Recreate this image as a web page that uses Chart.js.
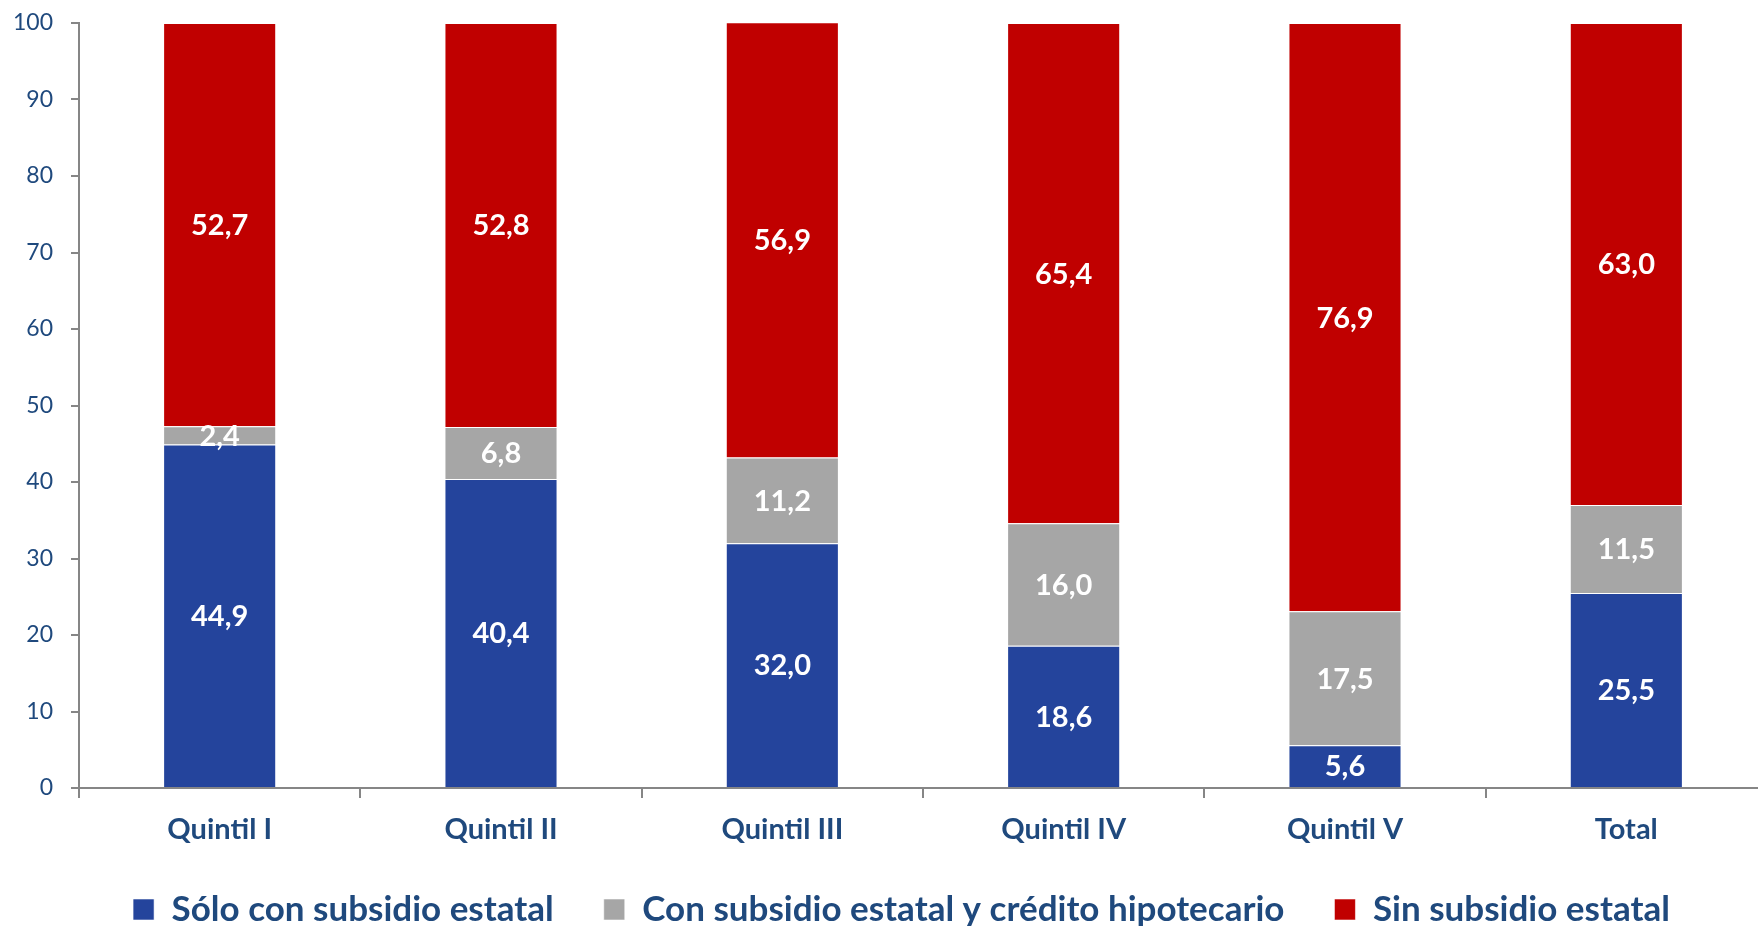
<!DOCTYPE html>
<html>
<head>
<meta charset="utf-8">
<script src="https://cdn.jsdelivr.net/npm/chart.js@4/dist/chart.umd.min.js"></script>
<style>
  html, body { margin: 0; padding: 0; background: #ffffff; overflow: hidden; width: 1758px; height: 926px; }
  #wrap { position: absolute; left: 0; top: 0; width: 1767px; height: 980px; }
</style>
</head>
<body>
<div id="wrap"><canvas id="c" width="1767" height="980"></canvas></div>
<script>
// Categories and series (percent of households)
const categories = ['Quintil I', 'Quintil II', 'Quintil III', 'Quintil IV', 'Quintil V', 'Total'];
const soloSubsidio = [44.9, 40.4, 32.0, 18.6, 5.6, 25.5];
const subsidioCredito = [2.4, 6.8, 11.2, 16.0, 17.5, 11.5];
const sinSubsidio = [52.7, 52.8, 56.9, 65.4, 76.9, 63.0];
const seriesNames = ['Sólo con subsidio estatal', 'Con subsidio estatal y crédito hipotecario', 'Sin subsidio estatal'];
const yTicks = [0, 10, 20, 30, 40, 50, 60, 70, 80, 90, 100];

const FONT = 'Lato, Carlito, "Open Sans", sans-serif';
const TEXT_BLUE = '#1F497D';
const AXIS_GRAY = '#868686';

// Writes each segment's value (comma decimal) in white at the segment centre
const segmentLabels = {
  id: 'segmentLabels',
  afterLayout(chart) {
    // nudge the legend row right and slightly up
    const lg = chart.legend;
    if (lg) { lg.left += 18; lg.right += 18; lg.top -= 8; lg.bottom -= 8; }
  },
  afterDatasetsDraw(chart) {
    const ctx = chart.ctx;
    ctx.save();
    ctx.fillStyle = '#ffffff';
    ctx.font = 'bold 29px ' + FONT;
    ctx.textAlign = 'center';
    ctx.textBaseline = 'middle';
    chart.data.datasets.forEach((ds, i) => {
      const meta = chart.getDatasetMeta(i);
      meta.data.forEach((bar, j) => {
        const v = ds.data[j];
        const y = (bar.y + bar.base) / 2;
        ctx.fillText(v.toFixed(1).replace('.', ','), bar.x, y + 1);
      });
    });
    ctx.restore();
  }
};

const segBorder = 'rgba(255,255,255,0.55)';

new Chart(document.getElementById('c'), {
  type: 'bar',
  data: {
    labels: categories,
    datasets: [
      { label: seriesNames[0], data: soloSubsidio, backgroundColor: '#24449C', borderColor: segBorder, borderWidth: 1 },
      { label: seriesNames[1], data: subsidioCredito, backgroundColor: '#A6A6A6', borderColor: segBorder, borderWidth: 1 },
      { label: seriesNames[2], data: sinSubsidio, backgroundColor: '#C00000', borderColor: segBorder, borderWidth: 1 }
    ]
  },
  options: {
    responsive: false,
    animation: false,
    devicePixelRatio: 1,
    layout: { padding: { left: 0, right: 0, top: 23, bottom: 35 } },
    datasets: { bar: { categoryPercentage: 1.0, barPercentage: 0.402 } },
    scales: {
      x: {
        stacked: true,
        offset: true,
        grid: { display: true, drawOnChartArea: false, drawTicks: true, tickLength: 10, color: AXIS_GRAY, lineWidth: 2, offset: true },
        border: { display: true, color: AXIS_GRAY, width: 2 },
        ticks: { color: TEXT_BLUE, font: { family: FONT, size: 29, weight: 'bold' }, padding: 14, maxRotation: 0 },
        afterFit(scale) { scale.height = 62; }
      },
      y: {
        stacked: true,
        min: 0,
        max: 100,
        afterBuildTicks(scale) { scale.ticks = yTicks.map(v => ({ value: v })); },
        grid: { display: true, drawOnChartArea: false, drawTicks: true, tickLength: 8, color: AXIS_GRAY, lineWidth: 2 },
        border: { display: true, color: AXIS_GRAY, width: 2 },
        ticks: { color: TEXT_BLUE, font: { family: FONT, size: 23 }, padding: 18 },
        afterFit(scale) { scale.width = 79; scale.paddingTop = 0; scale.paddingBottom = 0; }
      }
    },
    plugins: {
      legend: {
        position: 'bottom',
        labels: {
          color: TEXT_BLUE,
          font: { family: FONT, size: 35, weight: 'bold' },
          boxWidth: 21,
          boxHeight: 21,
          padding: 50
        }
      },
      tooltip: { enabled: false }
    }
  },
  plugins: [segmentLabels]
});
</script>
</body>
</html>
